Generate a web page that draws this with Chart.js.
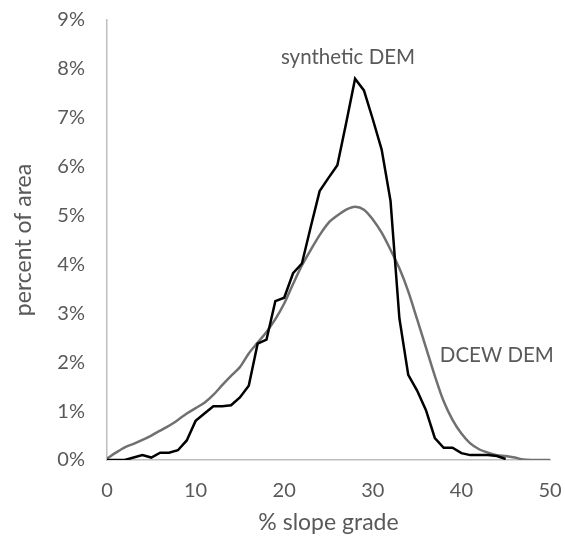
<!DOCTYPE html>
<html>
<head>
<meta charset="utf-8">
<script src="https://cdn.jsdelivr.net/npm/chart.js@4"></script>
<style>
  html, body { margin: 0; padding: 0; background: #fff; }
  #wrap { width: 565px; height: 536px; }
</style>
</head>
<body>
<div id="wrap"><canvas id="slopeChart" width="565" height="536"></canvas></div>
<script>
// slope grade (%) for each bin
const gradeSynthetic = [];
for (let i = 0; i <= 45; i++) gradeSynthetic.push(i);
const gradeDcew = [];
for (let i = 0; i <= 50; i++) gradeDcew.push(i);

// percent of area
const synthetic = [0, 0, 0, 0.05, 0.1, 0.05, 0.15, 0.15, 0.2, 0.4,
  0.8, 0.95, 1.1, 1.1, 1.12, 1.28, 1.52, 2.38, 2.46, 3.25,
  3.32, 3.82, 4.02, 4.77, 5.5, 5.77, 6.03, 6.9, 7.8, 7.56,
  6.97, 6.35, 5.3, 2.9, 1.74, 1.42, 1.02, 0.45, 0.25, 0.25,
  0.14, 0.1, 0.1, 0.1, 0.08, 0.02];
const dcew = [0.03, 0.15, 0.26, 0.33, 0.41, 0.5, 0.6, 0.7, 0.82, 0.95,
  1.06, 1.17, 1.33, 1.53, 1.72, 1.9, 2.18, 2.4, 2.62, 2.88,
  3.2, 3.6, 3.98, 4.3, 4.6, 4.85, 5.0, 5.12, 5.18, 5.12,
  4.92, 4.65, 4.3, 3.92, 3.45, 2.88, 2.3, 1.72, 1.2, 0.82,
  0.54, 0.34, 0.22, 0.15, 0.1, 0.08, 0.05, 0.01, 0, 0, 0];

// in-plot series labels (data units)
const labelText = ['synthetic DEM', 'DCEW DEM'];
const labelX = [27.2, 44.0];
const labelY = [8.24, 2.13];

const textGray = '#595959';
const fontFam = 'Lato, "Open Sans", sans-serif';

const seriesLabels = {
    id: 'seriesLabels',
    afterDatasetsDraw(chart) {
        const c = chart.ctx;
        const xs = chart.scales.x, ys = chart.scales.y;
        c.save();
        c.fillStyle = textGray;
        c.font = '20.5px ' + fontFam;
        c.textAlign = 'center';
        c.textBaseline = 'middle';
        labelText.forEach((t, i) => {
            c.fillText(t, xs.getPixelForValue(labelX[i]), ys.getPixelForValue(labelY[i]));
        });
        c.restore();
    }
};

const ctx = document.getElementById('slopeChart').getContext('2d');
const chart = new Chart(ctx, {
    type: 'line',
    data: {
        datasets: [{
            label: 'synthetic DEM',
            data: gradeSynthetic.map((g, i) => ({ x: g, y: synthetic[i] })),
            borderColor: '#000000',
            borderWidth: 2.5,
            pointRadius: 0,
            tension: 0
        }, {
            label: 'DCEW DEM',
            data: gradeDcew.map((g, i) => ({ x: g, y: dcew[i] })),
            borderColor: '#707070',
            borderWidth: 2.5,
            pointRadius: 0,
            tension: 0.3
        }]
    },
    options: {
        responsive: false,
        animation: false,
        layout: { padding: { top: 20, right: 15, bottom: 0, left: 0 } },
        plugins: {
            legend: { display: false },
            tooltip: { enabled: false }
        },
        scales: {
            x: {
                type: 'linear',
                min: 0,
                max: 50,
                grid: { display: false, drawTicks: false },
                border: { color: '#bfbfbf', width: 1.5 },
                ticks: {
                    stepSize: 10,
                    color: textGray,
                    padding: 19,
                    font: { size: 20, family: fontFam }
                },
                title: {
                    display: true,
                    text: '% slope grade',
                    color: textGray,
                    font: { size: 23, family: fontFam },
                    padding: { top: 2, bottom: 0 }
                },
                afterFit(scale) {
                    scale.height = 76;
                    scale.paddingLeft = 0;
                    scale.paddingRight = 0;
                }
            },
            y: {
                min: 0,
                max: 9,
                grid: { display: false, drawTicks: false },
                border: { color: '#bfbfbf', width: 1.5 },
                ticks: {
                    stepSize: 1,
                    color: textGray,
                    padding: 22,
                    font: { size: 20, family: fontFam },
                    callback: v => v + '%'
                },
                title: {
                    display: true,
                    text: 'percent of area',
                    color: textGray,
                    font: { size: 23, family: fontFam },
                    padding: { top: 10, bottom: 8 }
                },
                afterFit(scale) {
                    scale.width = 107;
                    scale.paddingTop = 0;
                    scale.paddingBottom = 0;
                }
            }
        }
    },
    plugins: [seriesLabels]
});
</script>
</body>
</html>
